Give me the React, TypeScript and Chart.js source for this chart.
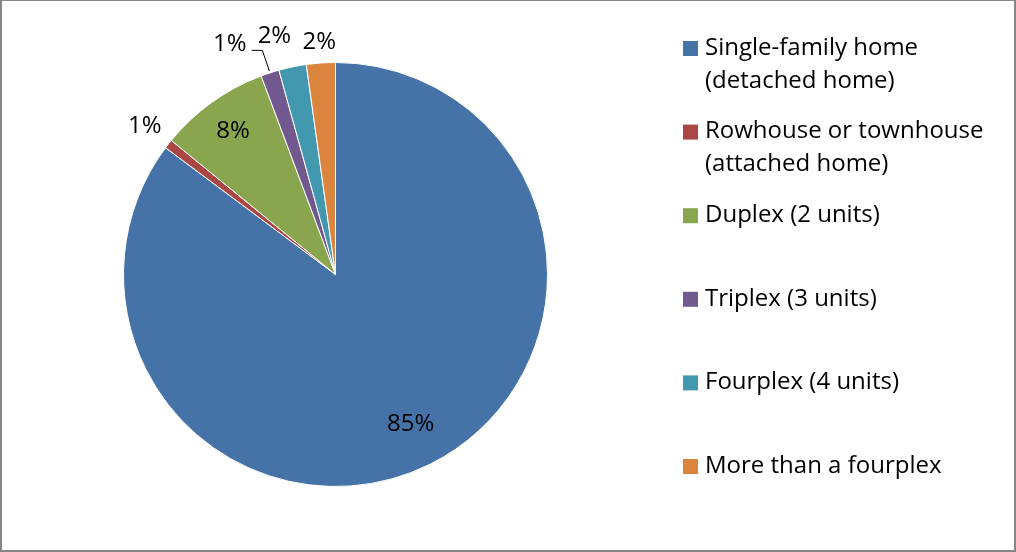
import React, { useEffect, useRef } from "react";
import { Chart, registerables } from "chart.js";

Chart.register(...registerables);

const categories: string[][] = [
  ["Single-family home", "(detached home)"],
  ["Rowhouse or townhouse", "(attached home)"],
  ["Duplex (2 units)"],
  ["Triplex (3 units)"],
  ["Fourplex (4 units)"],
  ["More than a fourplex"],
];
const values: number[] = [85.2, 0.7, 8.4, 1.4, 2.1, 2.2];
const colors: string[] = ["#4572A7", "#AA4643", "#89A54E", "#71588F", "#4198AF", "#DB843D"];

const FONT = "'Open Sans', sans-serif";

export default function App() {
  const ref = useRef<HTMLCanvasElement | null>(null);
  useEffect(() => {
    document.body.style.margin = "0";
    const canvas = ref.current!;
    const labelPlace = [
      { inside: true, f: 0.79, dx: 0, dy: 0 },
      { inside: false, off: 30, dx: 0, dy: 1 },
      { inside: true, f: 0.83, dx: 0, dy: 0 },
      { inside: false, off: 30, dx: -31, dy: 0, leader: true },
      { inside: false, off: 30, dx: -12, dy: -1 },
      { inside: false, off: 22, dx: 0, dy: 1 },
    ];
    const plugin = {
      id: "custom",
      afterDraw(chart: any) {
        const ctx = chart.ctx as CanvasRenderingContext2D;
        const meta = chart.getDatasetMeta(0);
        ctx.save();
        ctx.fillStyle = "#000";
        ctx.font = `24px ${FONT}`;
        ctx.textAlign = "center";
        ctx.textBaseline = "middle";
        meta.data.forEach((arc: any, i: number) => {
          const { x, y, startAngle, endAngle, outerRadius } = arc.getProps(
            ["x", "y", "startAngle", "endAngle", "outerRadius"],
            true
          );
          const mid = (startAngle + endAngle) / 2;
          const p = labelPlace[i];
          const r = p.inside ? outerRadius * (p.f as number) : outerRadius + (p.off as number);
          const lx = x + Math.cos(mid) * r + p.dx;
          const ly = y + Math.sin(mid) * r + p.dy;
          ctx.fillText(Math.round(values[i]) + "%", lx, ly);
          if ((p as any).leader) {
            const ex = x + Math.cos(mid) * (outerRadius + 2);
            const ey = y + Math.sin(mid) * (outerRadius + 2);
            ctx.strokeStyle = "#000";
            ctx.lineWidth = 1;
            ctx.beginPath();
            ctx.moveTo(lx + 22, ly + 6);
            ctx.lineTo(ex - 7, ly + 6);
            ctx.lineTo(ex, ey);
            ctx.stroke();
          }
        });
        // legend
        ctx.textAlign = "left";
        const y0 = 48;
        const step = (466 - 48) / (categories.length - 1);
        categories.forEach((lines, i) => {
          const cy = y0 + i * step;
          ctx.fillStyle = colors[i];
          ctx.fillRect(683, cy - 7, 15, 15);
          ctx.fillStyle = "#000";
          lines.forEach((t, j) => ctx.fillText(t, 705, cy + j * 33));
        });
        // border
        ctx.strokeStyle = "#868686";
        ctx.lineWidth = 2;
        ctx.strokeRect(1, 0, 1014, 551);
        ctx.restore();
      },
    };
    const chart = new Chart(canvas, {
      type: "pie",
      data: {
        labels: categories.map((c) => c.join(" ")),
        datasets: [
          {
            data: values,
            backgroundColor: colors,
            borderColor: "#ffffff",
            borderWidth: 1,
          },
        ],
      },
      options: {
        animation: false,
        responsive: false,
        layout: { padding: { left: 123, right: 468, top: 62, bottom: 65 } },
        plugins: { legend: { display: false }, tooltip: { enabled: false } },
      },
      plugins: [plugin],
    });
    return () => chart.destroy();
  }, []);
  return (
    <div style={{ position: "absolute", left: 0, top: 0, width: 1016, height: 552, background: "#fff" }}>
      <canvas ref={ref} width={1016} height={552} style={{ display: "block" }} />
    </div>
  );
}
